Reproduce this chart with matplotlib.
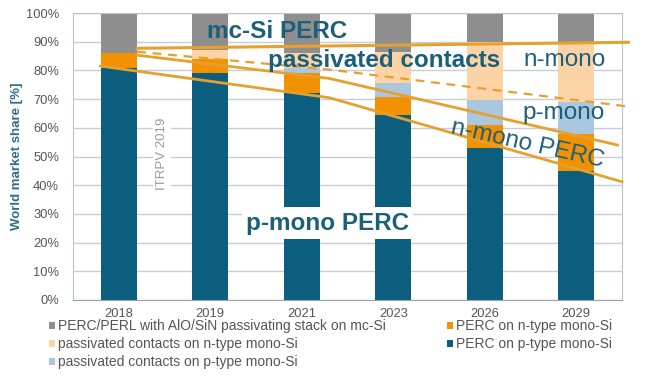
import matplotlib
matplotlib.use("Agg")
import matplotlib.pyplot as plt
import numpy as np

plt.rcParams['font.family'] = ['Liberation Sans', 'DejaVu Sans']

# --- data ---
years = ['2018', '2019', '2021', '2023', '2026', '2029']
perc_p = [81, 79, 72, 64.5, 53, 45]          # PERC on p-type mono-Si
perc_n = [5, 5, 7, 6.3, 8, 13]               # PERC on n-type mono-Si
pc_p = [0, 0, 2, 4.7, 8.7, 11]               # passivated contacts on p-type
pc_n = [0, 3, 5, 11, 20.3, 21]               # passivated contacts on n-type
mc_si = [14, 13, 14, 13.5, 10, 10]           # PERC/PERL on mc-Si

labels = ['PERC/PERL with AlO/SiN passivating stack on mc-Si',
          'passivated contacts on n-type mono-Si',
          'passivated contacts on p-type mono-Si',
          'PERC on n-type mono-Si',
          'PERC on p-type mono-Si']

# guide lines drawn over the bars (x = category index, y = %)
line_top_x, line_top_y = [0.2, 5.57], [87.7, 89.8]
line_dash_x, line_dash_y = [0.2, 2.3, 5.6], [86.5, 80.3, 67.3]
line_mid_x, line_mid_y = [0.2, 2.3, 5.45], [85.3, 77.2, 54.0]
line_low_x, line_low_y = [-0.2, 2.3, 5.5], [81.5, 70.5, 41.2]

c_teal = '#0b5e7d'
c_orange = '#f39200'
c_peach = '#fcd3a5'
c_lblue = '#a9c7de'
c_gray = '#8e8e8e'
c_line = '#e6a02e'
c_text = '#1b5f7b'

fig = plt.figure(figsize=(6.46, 3.82), dpi=100)
ax = fig.add_axes([73/646, 1-300/382, 549/646, 287/382])

x = np.arange(len(years))
w = 0.39
b1 = np.array(perc_p)
b2 = b1 + np.array(perc_n)
b3 = b2 + np.array(pc_p)
b4 = b3 + np.array(pc_n)
h_p = ax.bar(x, perc_p, w, color=c_teal, zorder=2)
h_n = ax.bar(x, perc_n, w, bottom=b1, color=c_orange, zorder=2)
h_pcp = ax.bar(x, pc_p, w, bottom=b2, color=c_lblue, zorder=2)
h_pcn = ax.bar(x, pc_n, w, bottom=b3, color=c_peach, zorder=2)
h_mc = ax.bar(x, 100 - b4, w, bottom=b4, color=c_gray, zorder=2)

ax.plot(line_top_x, line_top_y, color=c_line, lw=2.2, zorder=4, clip_on=False)
ax.plot(line_dash_x, line_dash_y, color=c_line, lw=1.6, ls=(0, (4, 3)), zorder=4, clip_on=False)
ax.plot(line_mid_x, line_mid_y, color=c_line, lw=2.0, zorder=4, clip_on=False)
ax.plot(line_low_x, line_low_y, color=c_line, lw=2.0, zorder=4, clip_on=False)

ax.set_xlim(-0.5, 5.5)
ax.set_ylim(0, 100)
ax.set_xticks(x)
ax.set_xticklabels(years)
ax.set_yticks(np.arange(0, 101, 10))
ax.set_yticklabels([f'{v}%' for v in range(0, 101, 10)])
ax.tick_params(axis='both', length=0, labelsize=9.3, labelcolor='#555555')
ax.tick_params(axis='y', pad=10)
ax.tick_params(axis='x', pad=6)
ax.grid(axis='y', color='#c5ced6', lw=1.0, zorder=0)
for s in ax.spines.values():
    s.set_color('#b8c4cc')
ax.spines['bottom'].set_color('#9aa4ab')
ax.set_ylabel('World market share [%]', fontsize=9.5, fontweight='bold', color='#2a6e8c', labelpad=2)

# annotations
ax.text(0.96, 93.6, 'mc-Si PERC', fontsize=17.5, fontweight='bold', color=c_text, zorder=5, va='center')
ax.text(1.63, 83.3, 'passivated contacts', fontsize=17.5, fontweight='bold', color=c_text, zorder=5, va='center')
ax.text(4.42, 83.7, 'n-mono', fontsize=17.5, color=c_text, zorder=5, va='center')
ax.text(4.41, 65.1, 'p-mono', fontsize=17.5, color=c_text, zorder=5, va='center')
ax.text(4.47, 54.2, 'n-mono PERC', fontsize=17.5, color=c_text, zorder=5,
        ha='center', va='center', rotation=-12.6, rotation_mode='anchor')
ax.text(2.28, 26.8, 'p-mono PERC', fontsize=17.5, fontweight='bold', color=c_text, zorder=5,
        ha='center', va='center',
        bbox=dict(facecolor='white', edgecolor='none', pad=3))
ax.text(0.47, 51, 'ITRPV 2019', fontsize=9.5, color='#9a9a9a', rotation=90, zorder=3,
        ha='center', va='center', bbox=dict(facecolor='white', edgecolor='none', pad=2))

handles = [h_mc, h_pcn, h_pcp, h_n, h_p]
fig.legend(handles, labels, loc='upper left', bbox_to_anchor=(49/646, 1-319/382), ncol=2,
           frameon=False, fontsize=10, labelcolor='#555555', handlelength=0.4, handleheight=0.4,
           handletextpad=0.25, labelspacing=0.3, columnspacing=4.4, borderaxespad=0, borderpad=0)

fig.savefig('out.png', dpi=100)
